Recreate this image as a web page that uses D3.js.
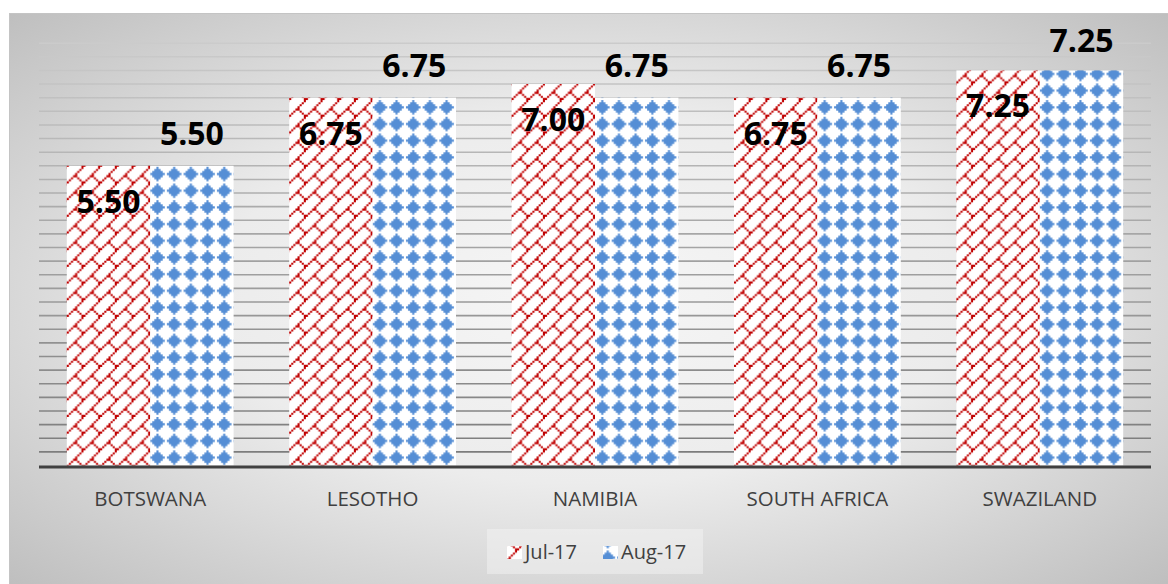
<!DOCTYPE html>
<html>
<head>
<meta charset="utf-8">
<script src="https://cdn.jsdelivr.net/npm/d3@7"></script>
<style>
  html, body { margin: 0; padding: 0; background: #ffffff; }
  svg { display: block; }
</style>
</head>
<body>
<svg id="chart" width="1168" height="584"></svg>
<script>
// Policy rates by country, two months
const categories = ["BOTSWANA", "LESOTHO", "NAMIBIA", "SOUTH AFRICA", "SWAZILAND"];
const seriesNames = ["Jul-17", "Aug-17"];
const jul17 = [5.50, 6.75, 7.00, 6.75, 7.25];
const aug17 = [5.50, 6.75, 6.75, 6.75, 7.25];
const seriesValues = [jul17, aug17];

const W = 1168, H = 584;
const svg = d3.select("#chart");
const defs = svg.append("defs");

// Chart area background: soft radial grey gradient
const bg = defs.append("radialGradient")
  .attr("id", "bgGrad")
  .attr("cx", "50%").attr("cy", "50%").attr("r", "72%");
bg.append("stop").attr("offset", "0%").attr("stop-color", "#f6f6f6");
bg.append("stop").attr("offset", "45%").attr("stop-color", "#ececec");
bg.append("stop").attr("offset", "100%").attr("stop-color", "#bdbdbd");

svg.append("rect")
  .attr("x", 9).attr("y", 13)
  .attr("width", W - 9).attr("height", H - 13)
  .attr("fill", "url(#bgGrad)");
svg.append("line")
  .attr("x1", 9).attr("x2", W).attr("y1", 13.5).attr("y2", 13.5)
  .attr("stroke", "#c4c4c4").attr("stroke-width", 1);
svg.append("line")
  .attr("x1", 9.5).attr("x2", 9.5).attr("y1", 13).attr("y2", H)
  .attr("stroke", "#c4c4c4").attr("stroke-width", 1);

// Bitmap hatch fills (8x8 tiles, enlarged); each tile is one path so cells join seamlessly
const cell = 2.085;
function bitPattern(id, rows, color) {
  const p = defs.append("pattern")
    .attr("id", id)
    .attr("patternUnits", "userSpaceOnUse")
    .attr("width", 8 * cell).attr("height", 8 * cell);
  p.append("rect").attr("width", 8 * cell).attr("height", 8 * cell).attr("fill", "#ffffff");
  const path = d3.path();
  rows.forEach((bits, r) => {
    for (let c = 0; c < 8; c++) {
      if (bits & (0x80 >> c)) path.rect(c * cell, r * cell, cell, cell);
    }
  });
  p.append("path").attr("d", path.toString()).attr("fill", color);
}
// diagonal brick
bitPattern("patJul", [0x01, 0x02, 0x04, 0x08, 0x18, 0x24, 0x42, 0x81], "#c00000");
// solid diamond
bitPattern("patAug", [0x10, 0x38, 0x7c, 0xfe, 0x7c, 0x38, 0x10, 0x00], "#558ed5");
const fills = ["url(#patJul)", "url(#patAug)"];

// Scales
const plotLeft = 39, plotRight = 1151;
const y = d3.scaleLinear().domain([0, 7.75]).range([465.5, 43.2]);
const x0 = d3.scaleBand().domain(categories).range([plotLeft, plotRight])
  .paddingInner(0.25).paddingOuter(0.125);
const x1 = d3.scaleBand().domain(seriesNames).range([0, x0.bandwidth()]);

// Horizontal gridlines, darkening toward the baseline
const gridGrad = defs.append("linearGradient")
  .attr("id", "gridGrad")
  .attr("gradientUnits", "userSpaceOnUse")
  .attr("x1", 0).attr("x2", 0)
  .attr("y1", y(7.75)).attr("y2", y(0));
gridGrad.append("stop").attr("offset", "0%").attr("stop-color", "#cbcbcb");
gridGrad.append("stop").attr("offset", "100%").attr("stop-color", "#7a7a7a");

const gridVals = d3.range(1, 32).map(i => i * 0.25);
svg.append("g").selectAll("line")
  .data(gridVals)
  .join("line")
  .attr("x1", plotLeft).attr("x2", plotRight)
  .attr("y1", d => y(d)).attr("y2", d => y(d))
  .attr("stroke", "url(#gridGrad)")
  .attr("stroke-width", 1.6);

// Bars
const groups = svg.append("g").selectAll("g")
  .data(categories)
  .join("g")
  .attr("transform", d => `translate(${x0(d)},0)`);

groups.selectAll("rect")
  .data((d, i) => seriesNames.map((s, k) => ({ s, k, v: seriesValues[k][i] })))
  .join("rect")
  .attr("x", d => x1(d.s))
  .attr("width", x1.bandwidth())
  .attr("y", d => y(d.v))
  .attr("height", d => y(0) - y(d.v))
  .attr("fill", d => fills[d.k]);

// Baseline
svg.append("line")
  .attr("x1", plotLeft).attr("x2", plotRight)
  .attr("y1", y(0) + 1.5).attr("y2", y(0) + 1.5)
  .attr("stroke", "#404040").attr("stroke-width", 3);

// Value labels: Jul inside the bar top, Aug above the bar
groups.selectAll("text.val")
  .data((d, i) => seriesNames.map((s, k) => ({ s, k, v: seriesValues[k][i] })))
  .join("text")
  .attr("class", "val")
  .attr("x", d => x1(d.s) + x1.bandwidth() / 2)
  .attr("y", d => d.k === 0 ? y(d.v) + 47 : Math.max(y(d.v) - 21, 52))
  .attr("text-anchor", "middle")
  .attr("font-family", "'Open Sans', sans-serif")
  .attr("font-weight", "bold")
  .attr("font-size", 32)
  .attr("fill", "#000000")
  .text(d => d.v.toFixed(2));

// Category axis labels
svg.append("g").selectAll("text")
  .data(categories)
  .join("text")
  .attr("x", d => x0(d) + x0.bandwidth() / 2)
  .attr("y", 506)
  .attr("text-anchor", "middle")
  .attr("font-family", "'Open Sans', sans-serif")
  .attr("font-size", 20.5)
  .attr("fill", "#404040")
  .text(d => d);

// Legend
const legend = svg.append("g");
legend.append("rect")
  .attr("x", 487).attr("y", 529).attr("width", 216).attr("height", 45)
  .attr("fill", "#f7f7f7").attr("fill-opacity", 0.45);
const legendItems = [
  { name: seriesNames[0], sx: 507, tx: 525 },
  { name: seriesNames[1], sx: 603, tx: 621 }
];
legendItems.forEach((it, k) => {
  legend.append("rect")
    .attr("x", it.sx).attr("y", 546).attr("width", 15).attr("height", 13)
    .attr("fill", fills[k]);
  legend.append("text")
    .attr("x", it.tx).attr("y", 559)
    .attr("font-family", "'Open Sans', sans-serif")
    .attr("font-size", 20)
    .attr("fill", "#404040")
    .text(it.name);
});
</script>
</body>
</html>
